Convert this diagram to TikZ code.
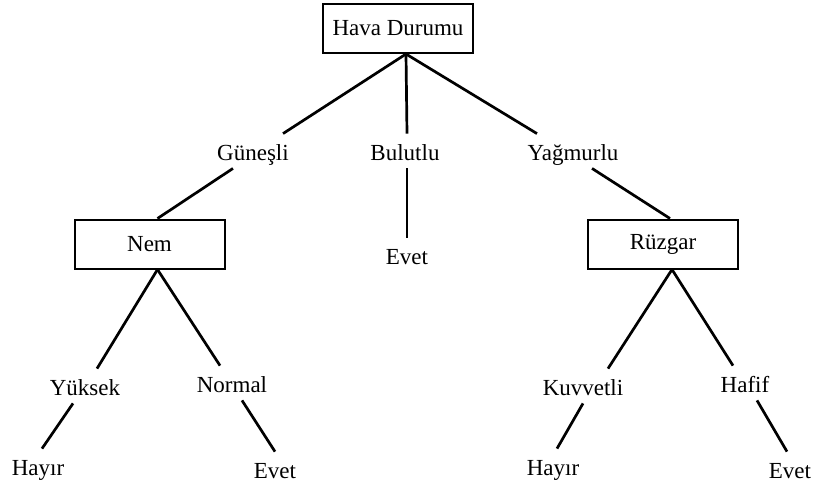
\documentclass[tikz,border=0pt]{standalone}
\usepackage{fontspec}
\setmainfont{Liberation Serif}
\tikzset{
    % boxes for the attributes
    attrbox/.style={draw, line width=1pt, minimum width=75pt, minimum height=24.5pt, inner sep=0pt, font=\fontsize{11.5}{14}\selectfont},
    % branch values and leaves
    vallab/.style={anchor=base, inner sep=0pt, text height=13pt, text depth=4pt, font=\fontsize{11.5}{14}\selectfont},
    branch/.style={line width=1.35pt}
}
\begin{document}
\begin{tikzpicture}[x=0.5pt, y=-0.5pt]
    \useasboundingbox (0,0) rectangle (814,488);
 % ROOT
    \node (hava) at (398,28.5) [attrbox] {Hava Durumu};

    \node (gunesli) at (253,160) [vallab] {Güneşli};
    \node (bulutlu) at (405,160) [vallab] {Bulutlu};
    \node (yagmurlu) at (573,160) [vallab] {Yağmurlu};

    \node (nem) at (149.5,244) [attrbox] {Nem};
    \node (evetB) at (407,264) [vallab] {Evet};
    \node (ruzgar) at (663,244) [attrbox] {Rüzgar};

    \node (yuksek) at (85,395) [vallab] {Yüksek};
    \node (normal) at (232,392) [vallab] {Normal};
    \node (kuvvetli) at (583,395) [vallab] {Kuvvetli};
    \node (hafif) at (745,392) [vallab] {Hafif};

    \node (hayirN) at (38,475) [vallab] {Hayır};
    \node (evetN) at (275,478) [vallab] {Evet};
    \node (hayirR) at (553,475) [vallab] {Hayır};
    \node (evetR) at (790,478) [vallab] {Evet};

     % BRANCHES
       \draw[branch] ([xshift=4pt]hava.south) -- ([xshift=15pt]gunesli.north);
       \draw[branch] ([xshift=4pt]hava.south) -- ([xshift=1pt]bulutlu.north);
       \draw[branch] ([xshift=4pt]hava.south) -- ([xshift=-18pt]yagmurlu.north);
       \draw[branch] ([xshift=-10pt]gunesli.south) -- ([xshift=4pt]nem.north);
       \draw[branch] ([xshift=1pt]bulutlu.south) -- (evetB.north);
       \draw[branch] ([xshift=9.5pt]yagmurlu.south) -- ([xshift=3.5pt]ruzgar.north);
       \draw[branch] ([xshift=4pt]nem.south) -- ([xshift=6pt]yuksek.north);
       \draw[branch] ([xshift=4pt]nem.south) -- ([xshift=-6pt]normal.north);
       \draw[branch] ([xshift=4.5pt]ruzgar.south) -- ([xshift=12.5pt]kuvvetli.north);
       \draw[branch] ([xshift=4.5pt]ruzgar.south) -- ([xshift=-6pt]hafif.north);
       \draw[branch] ([xshift=-6pt]yuksek.south) -- ([xshift=2pt]hayirN.north);
       \draw[branch] ([xshift=5pt]normal.south) -- (evetN.north);
       \draw[branch] (kuvvetli.south) -- ([xshift=2pt]hayirR.north);
       \draw[branch] ([xshift=6pt]hafif.south) -- ([xshift=-1.5pt]evetR.north);

\end{tikzpicture}
\end{document}
